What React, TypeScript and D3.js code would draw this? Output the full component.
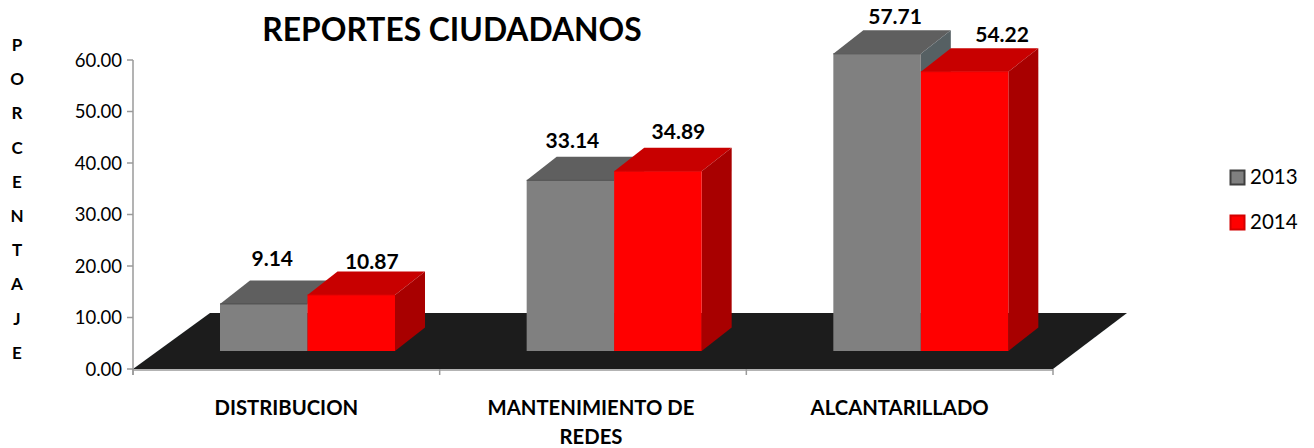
import React from "react";
import * as d3 from "d3";

const categories = ["DISTRIBUCION", "MANTENIMIENTO DE|REDES", "ALCANTARILLADO"];
const years = ["2013", "2014"];
const values2013 = [9.14, 33.14, 57.71];
const values2014 = [10.87, 34.89, 54.22];
const yTicks = [0, 10, 20, 30, 40, 50, 60];
const axisLetters = ["P", "O", "R", "C", "E", "N", "T", "A", "J", "E"];
const series = [
  { name: years[0], values: values2013, front: "#808080", top: "#5f5f5f", side: "#566064", edge: "#4d4d4d" },
  { name: years[1], values: values2014, front: "#ff0000", top: "#c80000", side: "#a80000", edge: "#e00000" },
];
// hand placement of the value labels relative to each bar's top-centre
const labelShiftX = [[0.5, 12.5], [-6, 12.5], [10, 29.5]];
const labelShiftY = [[-38, -26], [-32, -32], [-29.5, -30]];

const font = "Lato, Carlito, Calibri, sans-serif";
const y = d3.scaleLinear().domain([0, 60]).range([369, 60]);
const x = d3.scaleBand<string>().domain(categories).range([133, 1053]);
const xSeries = d3.scaleBand<string>().domain(years).range([87, 262]);
const depthX = 30;
const depthY = 23.5;
const floorDX = 77;
const floorDY = 56;
const baseLift = 18;
const line = d3.line();

export default function App() {
  const x0 = x.range()[0];
  const x1 = x.range()[1];
  const floor = line([
    [x0, y(0)],
    [x0 + floorDX, y(0) - floorDY],
    [x1 + floorDX - 3, y(0) - floorDY],
    [x1, y(0)],
  ] as [number, number][])! + "Z";

  return (
    <svg width={1314} height={448} style={{ position: "absolute", left: 0, top: 0, background: "#fff" }} fontFamily={font}>
      <defs>
        <filter id="soft" x="-5%" y="-5%" width="110%" height="110%">
          <feGaussianBlur stdDeviation="0.6" />
        </filter>
      </defs>
      <text x={452} y={40.5} textAnchor="middle" fontSize={31.8} fontWeight={700} fill="#000">REPORTES CIUDADANOS</text>
      {axisLetters.map((l, i) => (
        <text key={i} x={17} y={51 + i * 34.2} textAnchor="middle" fontSize={17} fontWeight={700} fill="#000">{l}</text>
      ))}

      <path d={floor} fill="#1a1d1e" filter="url(#soft)" />

      <g stroke="#9a9a9a" strokeWidth={1.5} fill="none">
        <line x1={133} x2={133} y1={y(60)} y2={y(0) + 6} />
        <line x1={133} x2={x1} y1={y(0) + 1} y2={y(0) + 1} />
        {yTicks.map((t) => <line key={t} x1={127} x2={133} y1={y(t)} y2={y(t)} />)}
        {[...categories.map((c) => x(c)!), x1].map((p, i) => <line key={i} x1={p} x2={p} y1={y(0)} y2={y(0) + 6} />)}
      </g>
      {yTicks.map((t) => (
        <text key={t} x={122} y={y(t) + 6.5} textAnchor="end" fontSize={18.5} fill="#000">{t.toFixed(2)}</text>
      ))}

      {categories.map((c, ci) => series.map((s) => {
        const left = x(c)! + xSeries(s.name)!;
        const w = xSeries.bandwidth();
        const base = y(0) - baseLift;
        const topY = base - (y(0) - y(s.values[ci]));
        const right = left + w;
        return (
          <g key={c + s.name} filter="url(#soft)">
            <path d={line([[left, topY], [left + depthX, topY - depthY], [right + depthX, topY - depthY], [right, topY]] as [number, number][])! + "Z"} fill={s.top} />
            <path d={line([[right, topY], [right + depthX, topY - depthY], [right + depthX, base - depthY], [right, base]] as [number, number][])! + "Z"} fill={s.side} />
            <rect x={left} y={topY} width={w} height={base - topY} fill={s.front} />
            <line x1={left} x2={right} y1={topY} y2={topY} stroke={s.edge} strokeWidth={1} />
          </g>
        );
      }))}

      {categories.map((c, ci) => series.map((s, si) => {
        const left = x(c)! + xSeries(s.name)!;
        const w = xSeries.bandwidth();
        const topY = y(0) - baseLift - (y(0) - y(s.values[ci]));
        return (
          <text key={c + s.name} x={left + w / 2 + labelShiftX[ci][si] + 8} y={topY + labelShiftY[ci][si]} textAnchor="middle" fontSize={21} fontWeight={700} fill="#000">
            {s.values[ci].toFixed(2)}
          </text>
        );
      }))}

      {categories.map((c) => c.split("|").map((part, i) => (
        <text key={part} x={x(c)! + x.bandwidth() / 2 - (c.includes("|") ? 2 : 0)} y={414.5 + i * 29} textAnchor="middle" fontSize={20.3} fontWeight={700} fill="#000">{part}</text>
      )))}

      {series.map((s, i) => (
        <g key={s.name}>
          <rect x={1230.5} y={170.5 + i * 45} width={14} height={14} fill={s.front} stroke={i === 0 ? "#3f3f3f" : "#d40000"} strokeWidth={2} />
          <text x={1250} y={183.5 + i * 45} fontSize={20.5} fill="#000">{s.name}</text>
        </g>
      ))}
    </svg>
  );
}
